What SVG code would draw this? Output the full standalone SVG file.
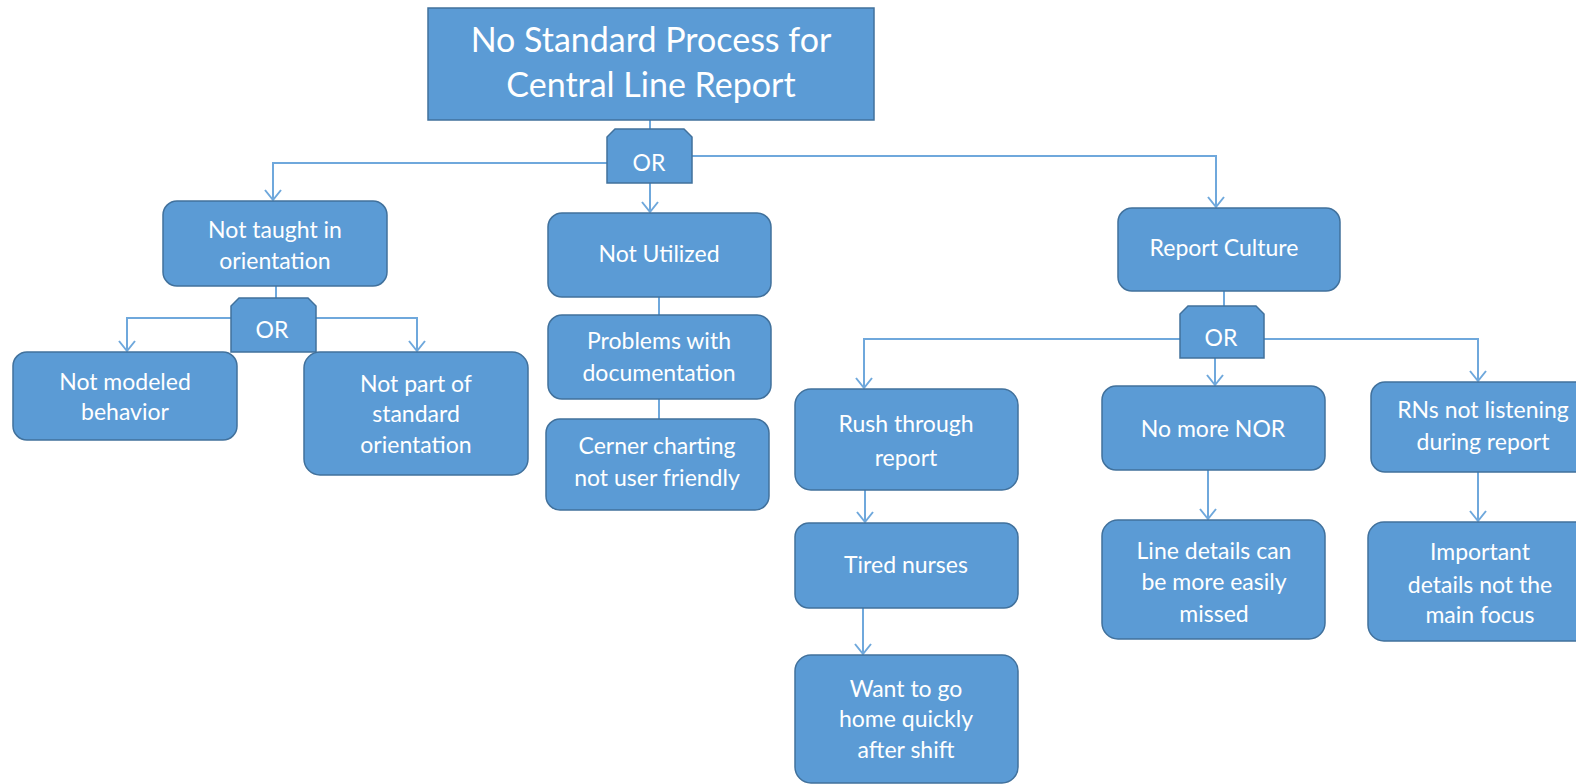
<svg xmlns="http://www.w3.org/2000/svg" width="1576" height="784" viewBox="0 0 1576 784">
<style>
.n{fill:#5B9BD5;stroke:#41719C;stroke-width:1.5}
.t{fill:#fff;font-family:Lato,"Open Sans",sans-serif;font-size:23px;text-anchor:middle}
.tt{font-size:34px}
.c{fill:none;stroke:#6FA8DC;stroke-width:2}
</style>
<defs>
<marker id="a" viewBox="0 0 20 20" refX="18" refY="10" markerWidth="20" markerHeight="20" markerUnits="userSpaceOnUse" orient="auto">
<path d="M8 2 L18 10 L8 18" fill="none" stroke="#6FA8DC" stroke-width="2"/>
</marker>
</defs>
<rect width="1576" height="784" fill="#fff"/>
<g id="connectors">
<path class="c" d="M650 120 V129"/>
<path class="c" d="M607 163 H273 V200" marker-end="url(#a)"/>
<path class="c" d="M650 183 V212" marker-end="url(#a)"/>
<path class="c" d="M692 156 H1216 V207" marker-end="url(#a)"/>
<path class="c" d="M276 286 V298"/>
<path class="c" d="M231 318 H127 V351" marker-end="url(#a)"/>
<path class="c" d="M316 318 H417 V351" marker-end="url(#a)"/>
<path class="c" d="M659 297 V315"/>
<path class="c" d="M659 399 V419"/>
<path class="c" d="M1224 291 V306"/>
<path class="c" d="M1180 339 H864 V388" marker-end="url(#a)"/>
<path class="c" d="M1215 358 V385" marker-end="url(#a)"/>
<path class="c" d="M1264 339 H1478 V381" marker-end="url(#a)"/>
<path class="c" d="M865 490 V522" marker-end="url(#a)"/>
<path class="c" d="M863 608 V654" marker-end="url(#a)"/>
<path class="c" d="M1208 470 V519" marker-end="url(#a)"/>
<path class="c" d="M1478 472 V521" marker-end="url(#a)"/>
</g>
<g id="root"><rect class="n" x="428" y="8" width="446" height="112"/><text class="t tt" x="651" y="52">No Standard Process for</text><text class="t tt" x="651" y="97">Central Line Report</text></g>
<g id="or1"><path class="n" d="M607 183 V137 L615 129 H684 L692 137 V183 Z"/><text class="t" x="649" y="171">OR</text></g>
<g id="taught"><rect class="n" x="163" y="201" width="224" height="85" rx="14"/><text class="t" x="275" y="238">Not taught in</text><text class="t" x="275" y="269">orientation</text></g>
<g id="or2"><path class="n" d="M231 352 V306 L239 298 H308 L316 306 V352 Z"/><text class="t" x="272" y="338">OR</text></g>
<g id="modeled"><rect class="n" x="13" y="352" width="224" height="88" rx="14"/><text class="t" x="125" y="390">Not modeled</text><text class="t" x="125" y="420">behavior</text></g>
<g id="notpart"><rect class="n" x="304" y="352" width="224" height="123" rx="16"/><text class="t" x="416" y="392">Not part of</text><text class="t" x="416" y="422">standard</text><text class="t" x="416" y="453">orientation</text></g>
<g id="utilized"><rect class="n" x="548" y="213" width="223" height="84" rx="14"/><text class="t" x="659" y="262">Not Utilized</text></g>
<g id="problems"><rect class="n" x="548" y="315" width="223" height="84" rx="14"/><text class="t" x="659" y="349">Problems with</text><text class="t" x="659" y="381">documentation</text></g>
<g id="cerner"><rect class="n" x="546" y="419" width="223" height="91" rx="14"/><text class="t" x="657" y="454">Cerner charting</text><text class="t" x="657" y="486">not user friendly</text></g>
<g id="culture"><rect class="n" x="1118" y="208" width="222" height="83" rx="14"/><text class="t" x="1224" y="256">Report Culture</text></g>
<g id="or3"><path class="n" d="M1180 358 V314 L1188 306 H1256 L1264 314 V358 Z"/><text class="t" x="1221" y="346">OR</text></g>
<g id="rush"><rect class="n" x="795" y="389" width="223" height="101" rx="16"/><text class="t" x="906" y="432">Rush through</text><text class="t" x="906" y="466">report</text></g>
<g id="tired"><rect class="n" x="795" y="523" width="223" height="85" rx="14"/><text class="t" x="906" y="573">Tired nurses</text></g>
<g id="home"><rect class="n" x="795" y="655" width="223" height="128" rx="16"/><text class="t" x="906" y="697">Want to go</text><text class="t" x="906" y="727">home quickly</text><text class="t" x="906" y="758">after shift</text></g>
<g id="nor"><rect class="n" x="1102" y="386" width="223" height="84" rx="14"/><text class="t" x="1213" y="437">No more NOR</text></g>
<g id="rns"><rect class="n" x="1371" y="382" width="224" height="90" rx="14"/><text class="t" x="1483" y="418">RNs not listening</text><text class="t" x="1483" y="450">during report</text></g>
<g id="details"><rect class="n" x="1102" y="520" width="223" height="119" rx="16"/><text class="t" x="1214" y="559">Line details can</text><text class="t" x="1214" y="590">be more easily</text><text class="t" x="1214" y="622">missed</text></g>
<g id="important"><rect class="n" x="1368" y="522" width="226" height="119" rx="16"/><text class="t" x="1480" y="560">Important</text><text class="t" x="1480" y="593">details not the</text><text class="t" x="1480" y="623">main focus</text></g>
</svg>
